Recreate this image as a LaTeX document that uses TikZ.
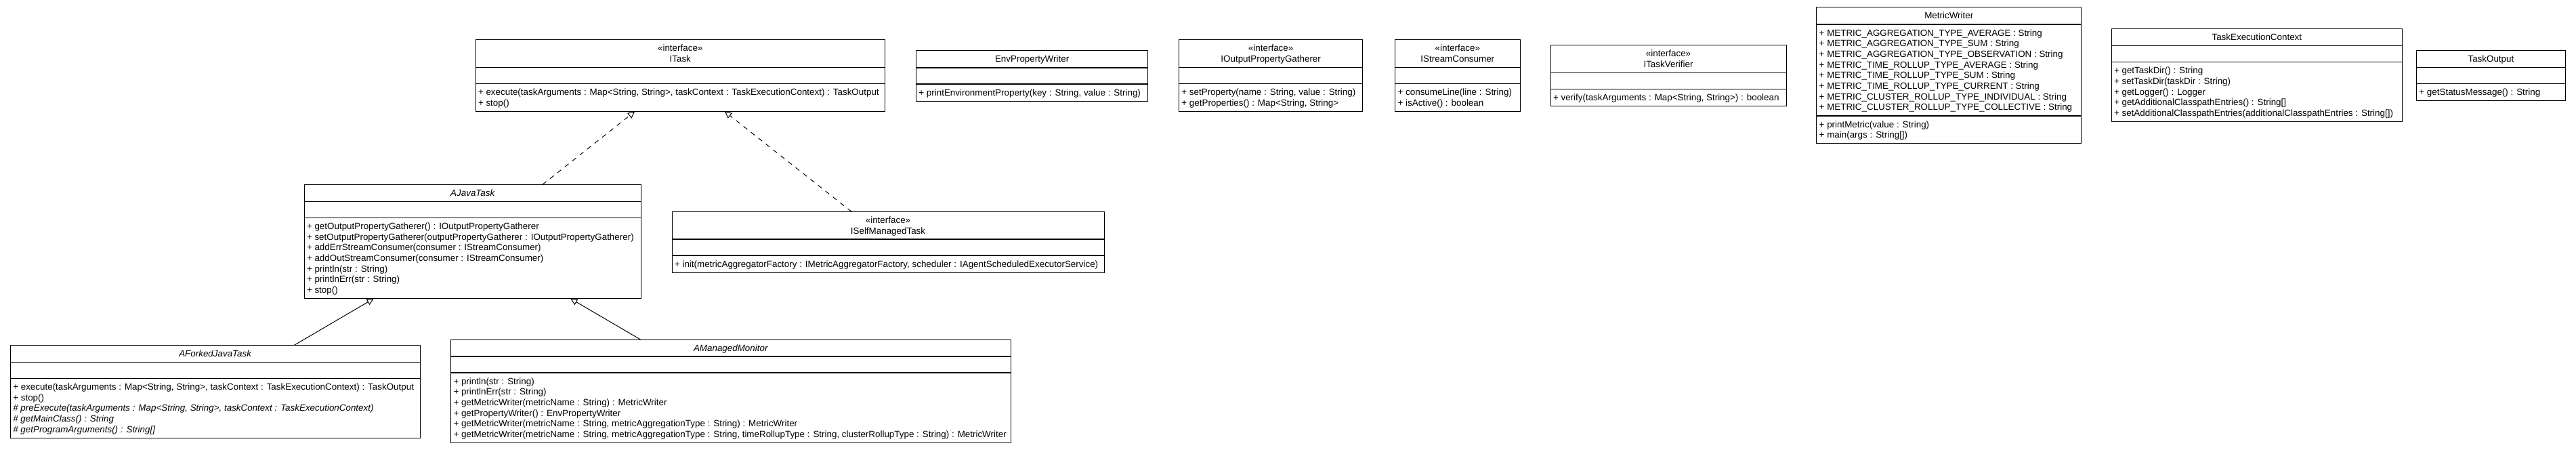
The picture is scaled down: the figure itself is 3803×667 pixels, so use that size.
\documentclass[tikz,border=0pt]{standalone}
\usepackage{fontspec}
\setmainfont{Liberation Sans}
\usetikzlibrary{arrows.meta,calc}
\newcount\tcnt
\tikzset{
  umlb/.style={draw=black, line width=1bp, inner sep=0pt, outer sep=0pt},
  divline/.style={line width=1.4bp},
  txt/.style={inner sep=0pt, outer sep=0pt, font=\fontsize{13.45}{15.7}\selectfont},
  realize/.style={dash pattern=on 7bp off 7bp, line width=1bp, -{Triangle[open, fill=white, length=10bp, width=10bp]}},
  inherit/.style={line width=1bp, -{Triangle[open, fill=white, length=10bp, width=10bp]}},
}
% name, x1, y1, x2, y2, d1, d2
\newcommand\umlbox[7]{%
  \pgfmathsetmacro\boxw{#4-#2}\pgfmathsetmacro\boxh{#5-#3}%
  \node[umlb, minimum width=\boxw bp, minimum height=\boxh bp, anchor=north west] (#1) at (#2,#3) {};
  \draw[divline] (#1.west |- 0,#6) -- (#1.east |- 0,#6);
  \draw[divline] (#1.west |- 0,#7) -- (#1.east |- 0,#7);
}
\newcommand\ctxt[3]{\global\advance\tcnt by 1\relax
  \node[txt, anchor=base] (t\the\tcnt) at (#1.north |- 0,#2) {#3};}
\newcommand\ltxt[3]{\global\advance\tcnt by 1\relax
  \node[txt, anchor=base west, xshift=4bp] (t\the\tcnt) at (#1.west |- 0,#2) {#3};}
\newcommand\mstart[2]{\def\curbox{#1}\pgfmathsetmacro\cury{#2+17}}
\newcommand\mline[1]{\ltxt{\curbox}{\cury}{#1}\pgfmathsetmacro\cury{\cury+15.7}}

\begin{document}
\begin{tikzpicture}[x=1bp, y=-1bp]
\fill[white] (0,0) rectangle (3803,667);
\useasboundingbox (0,0) rectangle (3803,667);

% ITask
\umlbox{itask}{702}{59}{1306.5}{164.6}{99.8}{123.8}
\ctxt{itask}{76}{«interface»}
\ctxt{itask}{91.7}{ITask}
\mstart{itask}{123.8}
\mline{+ execute(taskArguments : Map<String, String>, taskContext : TaskExecutionContext) : TaskOutput}
\mline{+ stop()}

% EnvPropertyWriter
\umlbox{env}{1352.4}{75}{1694.8}{149.2}{100.1}{124.1}
\ctxt{env}{92}{EnvPropertyWriter}
\mstart{env}{124.1}
\mline{+ printEnvironmentProperty(key : String, value : String)}

% IOutputPropertyGatherer
\umlbox{iopg}{1740.4}{59}{2011.9}{164.6}{99.8}{123.8}
\ctxt{iopg}{76}{«interface»}
\ctxt{iopg}{91.7}{IOutputPropertyGatherer}
\mstart{iopg}{123.8}
\mline{+ setProperty(name : String, value : String)}
\mline{+ getProperties() : Map<String, String>}

% IStreamConsumer
\umlbox{isc}{2059.6}{59}{2244}{164.6}{99.8}{123.8}
\ctxt{isc}{76}{«interface»}
\ctxt{isc}{91.7}{IStreamConsumer}
\mstart{isc}{123.8}
\mline{+ consumeLine(line : String)}
\mline{+ isActive() : boolean}

% ITaskVerifier
\umlbox{itv}{2289}{66.7}{2637}{156.6}{107.5}{131.5}
\ctxt{itv}{83.7}{«interface»}
\ctxt{itv}{99.4}{ITaskVerifier}
\mstart{itv}{131.5}
\mline{+ verify(taskArguments : Map<String, String>) : boolean}

% MetricWriter
\umlbox{mw}{2681.7}{11}{3072.8}{211.9}{36.1}{171.1}
\ctxt{mw}{28}{MetricWriter}
\mstart{mw}{36.1}
\mline{+ METRIC\_AGGREGATION\_TYPE\_AVERAGE : String}
\mline{+ METRIC\_AGGREGATION\_TYPE\_SUM : String}
\mline{+ METRIC\_AGGREGATION\_TYPE\_OBSERVATION : String}
\mline{+ METRIC\_TIME\_ROLLUP\_TYPE\_AVERAGE : String}
\mline{+ METRIC\_TIME\_ROLLUP\_TYPE\_SUM : String}
\mline{+ METRIC\_TIME\_ROLLUP\_TYPE\_CURRENT : String}
\mline{+ METRIC\_CLUSTER\_ROLLUP\_TYPE\_INDIVIDUAL : String}
\mline{+ METRIC\_CLUSTER\_ROLLUP\_TYPE\_COLLECTIVE : String}
\mstart{mw}{171.1}
\mline{+ printMetric(value : String)}
\mline{+ main(args : String[])}

% TaskExecutionContext
\umlbox{tec}{3117}{42.7}{3546.6}{179.7}{67.8}{91.8}
\ctxt{tec}{59.7}{TaskExecutionContext}
\mstart{tec}{91.8}
\mline{+ getTaskDir() : String}
\mline{+ setTaskDir(taskDir : String)}
\mline{+ getLogger() : Logger}
\mline{+ getAdditionalClasspathEntries() : String[]}
\mline{+ setAdditionalClasspathEntries(additionalClasspathEntries : String[])}

% TaskOutput
\umlbox{tout}{3567.4}{74.5}{3787.4}{148.7}{99.6}{123.6}
\ctxt{tout}{91.5}{TaskOutput}
\mstart{tout}{123.6}
\mline{+ getStatusMessage() : String}

% AJavaTask
\umlbox{ajt}{449}{272.3}{946.5}{440.7}{297.4}{321.4}
\ctxt{ajt}{289.3}{\itshape AJavaTask}
\mstart{ajt}{321.4}
\mline{+ getOutputPropertyGatherer() : IOutputPropertyGatherer}
\mline{+ setOutputPropertyGatherer(outputPropertyGatherer : IOutputPropertyGatherer)}
\mline{+ addErrStreamConsumer(consumer : IStreamConsumer)}
\mline{+ addOutStreamConsumer(consumer : IStreamConsumer)}
\mline{+ println(str : String)}
\mline{+ printlnErr(str : String)}
\mline{+ stop()}

% ISelfManagedTask
\umlbox{ismt}{992}{312.3}{1630}{402.2}{353.1}{377.1}
\ctxt{ismt}{329.3}{«interface»}
\ctxt{ismt}{345}{ISelfManagedTask}
\mstart{ismt}{377.1}
\mline{+ init(metricAggregatorFactory : IMetricAggregatorFactory, scheduler : IAgentScheduledExecutorService)}

% AForkedJavaTask
\umlbox{afjt}{15.3}{509.3}{620}{646.3}{534.4}{558.4}
\ctxt{afjt}{526.3}{\itshape AForkedJavaTask}
\mstart{afjt}{558.4}
\mline{+ execute(taskArguments : Map<String, String>, taskContext : TaskExecutionContext) : TaskOutput}
\mline{+ stop()}
\mline{\itshape \# preExecute(taskArguments : Map<String, String>, taskContext : TaskExecutionContext)}
\mline{\itshape \# getMainClass() : String}
\mline{\itshape \# getProgramArguments() : String[]}

% AManagedMonitor
\umlbox{amm}{665.5}{501}{1492}{653.7}{526.1}{550.1}
\ctxt{amm}{518}{\itshape AManagedMonitor}
\mstart{amm}{550.1}
\mline{+ println(str : String)}
\mline{+ printlnErr(str : String)}
\mline{+ getMetricWriter(metricName : String) : MetricWriter}
\mline{+ getPropertyWriter() : EnvPropertyWriter}
\mline{+ getMetricWriter(metricName : String, metricAggregationType : String) : MetricWriter}
\mline{+ getMetricWriter(metricName : String, metricAggregationType : String, timeRollupType : String, clusterRollupType : String) : MetricWriter}

% connectors
\draw[realize] ($(ajt.north west)!0.7075!(ajt.north east)$) -- ($(itask.south west)!0.3888!(itask.south east)$);
\draw[realize] ($(ismt.north west)!0.4154!(ismt.north east)$) -- ($(itask.south west)!0.6088!(itask.south east)$);
\draw[inherit] ($(afjt.north west)!0.6932!(afjt.north east)$) -- ($(ajt.south west)!0.2064!(ajt.south east)$);
\draw[inherit] ($(amm.north west)!0.3387!(amm.north east)$) -- ($(ajt.south west)!0.7906!(ajt.south east)$);
\end{tikzpicture}
\end{document}
